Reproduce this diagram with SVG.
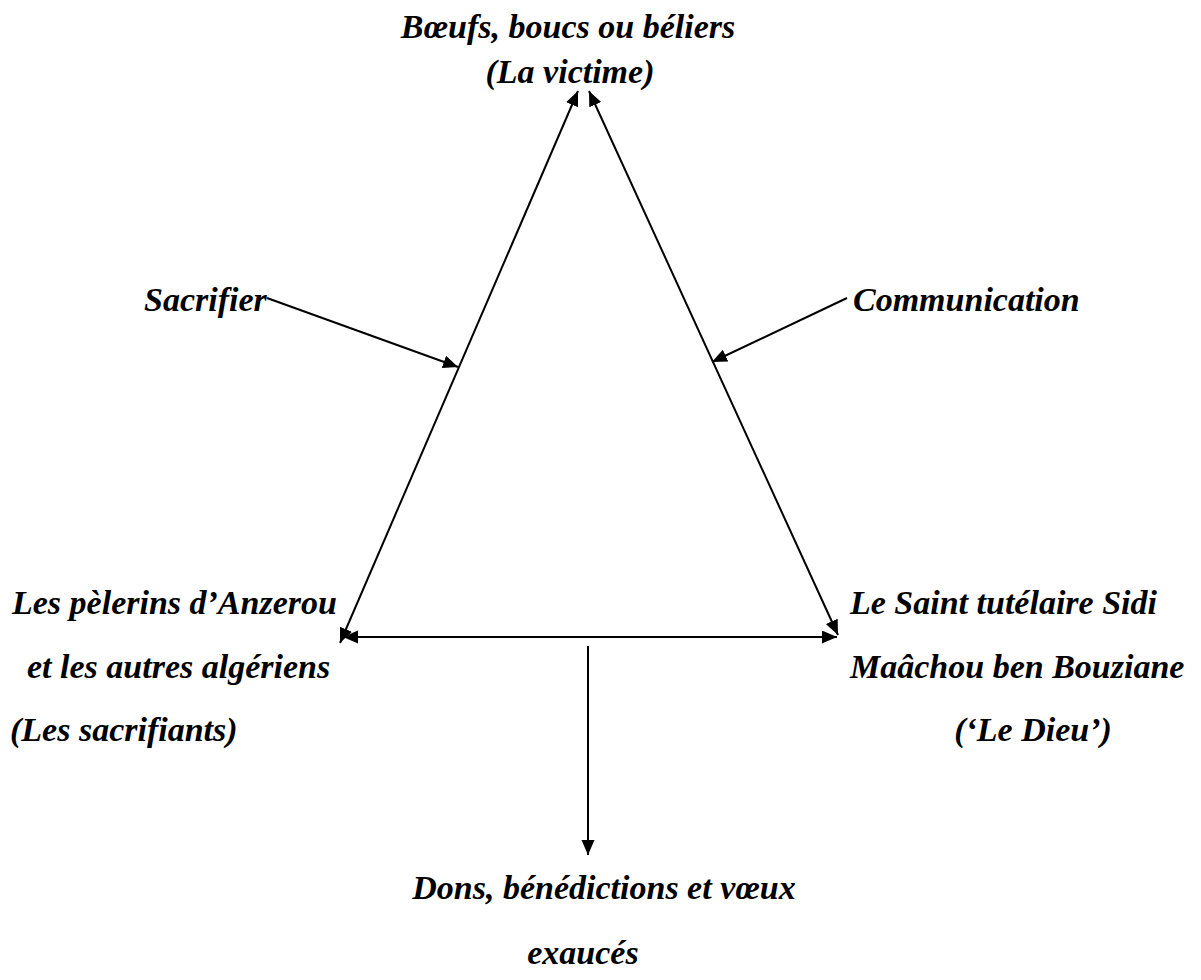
<svg xmlns="http://www.w3.org/2000/svg" width="1201" height="980" viewBox="0 0 1201 980">
<style>
  .t { font-family: "Liberation Serif", "Times New Roman", serif; font-size: 34px; font-weight: bold; font-style: italic; fill: #000; }
  .c { text-anchor: middle; }
  .ln { stroke: #000; stroke-width: 2; fill: none; }
</style>
<defs>
  <marker id="ah" markerUnits="userSpaceOnUse" markerWidth="16" markerHeight="14" refX="15" refY="6.5" orient="auto-start-reverse">
    <path d="M0,0 L15,6.5 L0,13 z" fill="#000"/>
  </marker>
</defs>
<rect width="1201" height="980" fill="#fff"/>
<g id="connectors">
  <line class="ln" x1="340" y1="643" x2="578" y2="91" marker-start="url(#ah)" marker-end="url(#ah)"/>
  <line class="ln" x1="589" y1="91" x2="838" y2="635" marker-start="url(#ah)" marker-end="url(#ah)"/>
  <line class="ln" x1="343" y1="637" x2="837" y2="637" marker-start="url(#ah)" marker-end="url(#ah)"/>
  <line class="ln" x1="588" y1="646" x2="588" y2="855" marker-end="url(#ah)"/>
  <line class="ln" x1="267" y1="298" x2="458" y2="367" marker-end="url(#ah)"/>
  <line class="ln" x1="847" y1="298" x2="712" y2="362" marker-end="url(#ah)"/>
</g>
<g id="victime">
  <text class="t c" x="568" y="38">Bœufs, boucs ou béliers</text>
  <text class="t c" x="570" y="83">(La victime)</text>
</g>
<g id="sacrifier">
  <text class="t" x="144" y="311">Sacrifier</text>
</g>
<g id="communication">
  <text class="t" x="853" y="311">Communication</text>
</g>
<g id="sacrifiants">
  <text class="t" x="12" y="614">Les pèlerins d’Anzerou</text>
  <text class="t" x="27" y="678">et les autres algériens</text>
  <text class="t" x="10" y="741">(Les sacrifiants)</text>
</g>
<g id="dieu">
  <text class="t" x="850" y="614">Le Saint tutélaire Sidi</text>
  <text class="t" x="850" y="678">Maâchou ben Bouziane</text>
  <text class="t c" x="1033" y="741">(‘Le Dieu’)</text>
</g>
<g id="dons">
  <text class="t c" x="604" y="899">Dons, bénédictions et vœux</text>
  <text class="t c" x="583" y="964">exaucés</text>
</g>
</svg>
